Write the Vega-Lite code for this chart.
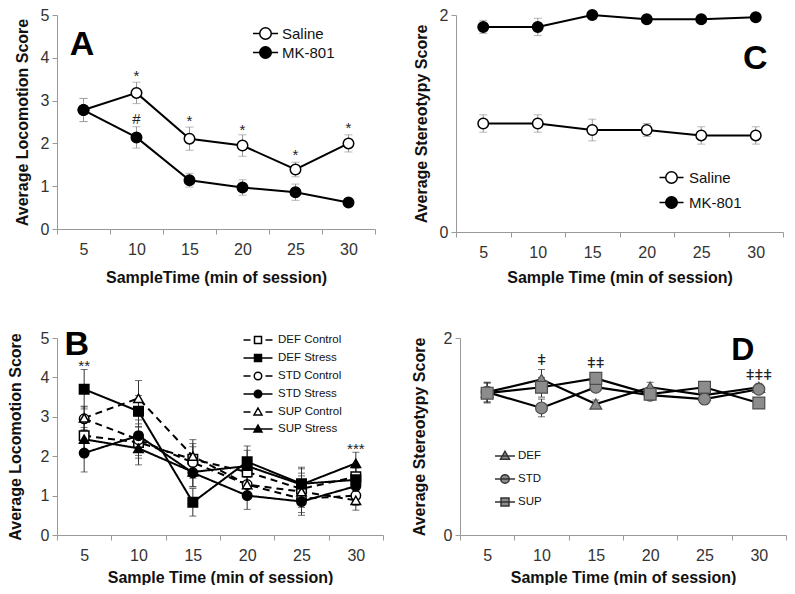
{
  "$schema": "https://vega.github.io/schema/vega-lite/v6.json",
  "padding": {"left": 7, "top": 6, "right": 0, "bottom": 0},
  "background": "white",
  "datasets": {
    "A": [
      {"g": "Saline", "t": 5, "v": 2.78, "e": 0.27},
      {"g": "Saline", "t": 10, "v": 3.18, "e": 0.25},
      {"g": "Saline", "t": 15, "v": 2.11, "e": 0.27},
      {"g": "Saline", "t": 20, "v": 1.95, "e": 0.25},
      {"g": "Saline", "t": 25, "v": 1.39, "e": 0.17},
      {"g": "Saline", "t": 30, "v": 2.0, "e": 0.2},
      {"g": "MK-801", "t": 5, "v": 2.78, "e": 0.27},
      {"g": "MK-801", "t": 10, "v": 2.14, "e": 0.25},
      {"g": "MK-801", "t": 15, "v": 1.14, "e": 0.16},
      {"g": "MK-801", "t": 20, "v": 0.97, "e": 0.18},
      {"g": "MK-801", "t": 25, "v": 0.86, "e": 0.19},
      {"g": "MK-801", "t": 30, "v": 0.62, "e": 0.05}
    ],
    "annA": [
      {"t": 10, "v": 3.62, "label": "*"},
      {"t": 15, "v": 2.58, "label": "*"},
      {"t": 20, "v": 2.36, "label": "*"},
      {"t": 25, "v": 1.78, "label": "*"},
      {"t": 30, "v": 2.41, "label": "*"},
      {"t": 10, "v": 2.62, "label": "#"}
    ],
    "C": [
      {"g": "Saline", "t": 5, "v": 1.0, "e": 0.08},
      {"g": "Saline", "t": 10, "v": 1.0, "e": 0.08},
      {"g": "Saline", "t": 15, "v": 0.94, "e": 0.1},
      {"g": "Saline", "t": 20, "v": 0.94, "e": 0.06},
      {"g": "Saline", "t": 25, "v": 0.89, "e": 0.08},
      {"g": "Saline", "t": 30, "v": 0.89, "e": 0.08},
      {"g": "MK-801", "t": 5, "v": 1.89, "e": 0.06},
      {"g": "MK-801", "t": 10, "v": 1.89, "e": 0.08},
      {"g": "MK-801", "t": 15, "v": 2.0, "e": 0.02},
      {"g": "MK-801", "t": 20, "v": 1.96, "e": 0.02},
      {"g": "MK-801", "t": 25, "v": 1.96, "e": 0.02},
      {"g": "MK-801", "t": 30, "v": 1.98, "e": 0.02}
    ],
    "B": [
      {"g": "DEF Control", "t": 5, "v": 2.52, "e": 0.35},
      {"g": "DEF Control", "t": 10, "v": 2.35, "e": 0.4},
      {"g": "DEF Control", "t": 15, "v": 1.92, "e": 0.4},
      {"g": "DEF Control", "t": 20, "v": 1.6, "e": 0.35},
      {"g": "DEF Control", "t": 25, "v": 1.17, "e": 0.4},
      {"g": "DEF Control", "t": 30, "v": 1.48, "e": 0.3},
      {"g": "DEF Stress", "t": 5, "v": 3.7, "e": 0.5},
      {"g": "DEF Stress", "t": 10, "v": 3.14, "e": 0.4},
      {"g": "DEF Stress", "t": 15, "v": 0.83, "e": 0.35},
      {"g": "DEF Stress", "t": 20, "v": 1.86, "e": 0.4},
      {"g": "DEF Stress", "t": 25, "v": 1.3, "e": 0.42},
      {"g": "DEF Stress", "t": 30, "v": 1.4, "e": 0.3},
      {"g": "STD Control", "t": 5, "v": 2.95, "e": 0.3},
      {"g": "STD Control", "t": 10, "v": 2.42, "e": 0.4},
      {"g": "STD Control", "t": 15, "v": 1.84, "e": 0.4},
      {"g": "STD Control", "t": 20, "v": 1.28, "e": 0.3},
      {"g": "STD Control", "t": 25, "v": 0.92, "e": 0.35},
      {"g": "STD Control", "t": 30, "v": 1.0, "e": 0.25},
      {"g": "STD Stress", "t": 5, "v": 2.08, "e": 0.48},
      {"g": "STD Stress", "t": 10, "v": 2.52, "e": 0.4},
      {"g": "STD Stress", "t": 15, "v": 1.58, "e": 0.35},
      {"g": "STD Stress", "t": 20, "v": 1.0, "e": 0.35},
      {"g": "STD Stress", "t": 25, "v": 0.85, "e": 0.35},
      {"g": "STD Stress", "t": 30, "v": 1.24, "e": 0.3},
      {"g": "SUP Control", "t": 5, "v": 2.97, "e": 0.3},
      {"g": "SUP Control", "t": 10, "v": 3.47, "e": 0.45},
      {"g": "SUP Control", "t": 15, "v": 2.0, "e": 0.42},
      {"g": "SUP Control", "t": 20, "v": 1.28, "e": 0.3},
      {"g": "SUP Control", "t": 25, "v": 1.1, "e": 0.4},
      {"g": "SUP Control", "t": 30, "v": 0.88, "e": 0.25},
      {"g": "SUP Stress", "t": 5, "v": 2.43, "e": 0.3},
      {"g": "SUP Stress", "t": 10, "v": 2.2, "e": 0.42},
      {"g": "SUP Stress", "t": 15, "v": 1.6, "e": 0.38},
      {"g": "SUP Stress", "t": 20, "v": 1.75, "e": 0.4},
      {"g": "SUP Stress", "t": 25, "v": 1.28, "e": 0.4},
      {"g": "SUP Stress", "t": 30, "v": 1.82, "e": 0.28}
    ],
    "annB": [
      {"t": 5, "v": 4.37, "label": "**"},
      {"t": 30, "v": 2.25, "label": "***"}
    ],
    "D": [
      {"g": "DEF", "t": 5, "v": 1.45, "e": 0.1},
      {"g": "DEF", "t": 10, "v": 1.58, "e": 0.1},
      {"g": "DEF", "t": 15, "v": 1.33, "e": 0.04},
      {"g": "DEF", "t": 20, "v": 1.5, "e": 0.05},
      {"g": "DEF", "t": 25, "v": 1.42, "e": 0.04},
      {"g": "DEF", "t": 30, "v": 1.5, "e": 0.04},
      {"g": "STD", "t": 5, "v": 1.45, "e": 0.1},
      {"g": "STD", "t": 10, "v": 1.29, "e": 0.09},
      {"g": "STD", "t": 15, "v": 1.5, "e": 0.04},
      {"g": "STD", "t": 20, "v": 1.42, "e": 0.04},
      {"g": "STD", "t": 25, "v": 1.38, "e": 0.05},
      {"g": "STD", "t": 30, "v": 1.48, "e": 0.04},
      {"g": "SUP", "t": 5, "v": 1.44, "e": 0.1},
      {"g": "SUP", "t": 10, "v": 1.5, "e": 0.1},
      {"g": "SUP", "t": 15, "v": 1.59, "e": 0.04},
      {"g": "SUP", "t": 20, "v": 1.43, "e": 0.04},
      {"g": "SUP", "t": 25, "v": 1.5, "e": 0.05},
      {"g": "SUP", "t": 30, "v": 1.34, "e": 0.03}
    ],
    "annD": [
      {"t": 10, "v": 1.8, "label": "ǂ"},
      {"t": 15, "v": 1.77, "label": "ǂǂ"},
      {"t": 30, "v": 1.64, "label": "ǂǂǂ"}
    ],
    "letters": [
      {"p": "A", "t": 5, "v": 4.07},
      {"p": "B", "t": 5, "v": 4.58},
      {"p": "C", "t": 30, "v": 1.5},
      {"p": "D", "t": 30, "v": 1.78}
    ]
  },
  "config": {
    "font": "Liberation Sans",
    "view": {"stroke": null},
    "axis": {
      "grid": false,
      "labelFont": "Liberation Sans",
      "labelFontSize": 16,
      "labelColor": "#333333",
      "titleFont": "Liberation Sans",
      "titleFontSize": 16,
      "titleFontWeight": "bold",
      "titleColor": "#111111",
      "domainColor": "#999999",
      "tickColor": "#999999",
      "tickSize": 5
    },
    "legend": {
      "labelFont": "Liberation Sans",
      "labelColor": "#111111"
    }
  },
  "vconcat": [
    {
      "hconcat": [
        {
          "width": 318,
          "height": 214,
          "data": {"name": "A"},
          "encoding": {
            "x": {"field": "t", "type": "ordinal", "scale": {"type": "band", "domain": [5, 10, 15, 20, 25, 30], "paddingInner": 0, "paddingOuter": 0}, "axis": {"title": "SampleTime (min of session)", "labelAngle": 0, "tickBand": "extent", "labelPadding": 7, "titlePadding": 12}},
            "y": {"field": "v", "type": "quantitative", "scale": {"domain": [0, 5]}, "axis": {"title": "Average Locomotion Score", "values": [0, 1, 2, 3, 4, 5], "format": "d", "titlePadding": 10, "labelPadding": 3}}
          },
          "layer": [
            {"mark": {"type": "errorbar", "color": "#999999", "thickness": 1, "ticks": {"size": 8}}, "encoding": {"yError": {"field": "e"}}},
            {"mark": {"type": "line", "color": "black", "strokeWidth": 2}, "encoding": {"detail": {"field": "g"}}},
            {"mark": {"type": "point", "filled": true, "stroke": "black", "strokeWidth": 1.5, "size": 110, "opacity": 1},
             "encoding": {
               "shape": {"field": "g", "type": "nominal", "scale": {"domain": ["Saline", "MK-801"], "range": ["circle", "circle"]}, "legend": null},
               "fill": {"field": "g", "type": "nominal", "scale": {"domain": ["Saline", "MK-801"], "range": ["white", "black"]}, "legend": null}
             }},
            {"data": {"name": "annA"}, "mark": {"type": "text", "fontSize": 15, "color": "#222222", "baseline": "middle", "dy": 2}, "encoding": {"text": {"field": "label"}}},
            {"data": {"name": "letters"}, "transform": [{"filter": "datum.p == 'A'"}], "mark": {"type": "text", "fontSize": 34, "fontWeight": "bold", "baseline": "alphabetic", "dx": -1.5, "color": "black"}, "encoding": {"text": {"field": "p"}}},
            {"transform": [{"filter": "datum.t > 100"}],
             "mark": {"type": "point", "filled": true, "stroke": "black", "strokeWidth": 1.5},
             "encoding": {
               "shape": {"field": "g", "type": "nominal", "scale": {"domain": ["Saline", "MK-801"], "range": ["M-1.67,0H-0.77M0.77,0H1.67M-0.77,0A0.77,0.77,0,1,0,0.77,0A0.77,0.77,0,1,0,-0.77,0Z", "M-1.67,0H1.67M-0.77,0A0.77,0.77,0,1,0,0.77,0A0.77,0.77,0,1,0,-0.77,0Z"]},
                 "legend": {"title": null, "orient": "none", "legendX": 200, "legendY": 10, "symbolSize": 225, "symbolOpacity": 1, "labelFontSize": 15, "labelOffset": 8, "rowPadding": 0,
                   "encode": {"symbols": {"update": {"stroke": {"value": "black"}, "strokeWidth": {"value": 1.5}}}}}},
               "fill": {"field": "g", "type": "nominal", "scale": {"domain": ["Saline", "MK-801"], "range": ["white", "black"]},
                 "legend": {"title": null, "orient": "none", "legendX": 200, "legendY": 10, "symbolSize": 225, "symbolOpacity": 1, "labelFontSize": 15, "labelOffset": 8, "rowPadding": 0,
                   "encode": {"symbols": {"update": {"stroke": {"value": "black"}, "strokeWidth": {"value": 1.5}}}}}}
             }}
          ],
          "resolve": {"scale": {"shape": "independent", "fill": "independent"}}
        },
        {
          "width": 327,
          "height": 217,
          "data": {"name": "C"},
          "encoding": {
            "x": {"field": "t", "type": "ordinal", "scale": {"type": "band", "domain": [5, 10, 15, 20, 25, 30], "paddingInner": 0, "paddingOuter": 0}, "axis": {"title": "Sample Time (min of session)", "labelAngle": 0, "tickBand": "extent", "labelPadding": 7, "titlePadding": 9}},
            "y": {"field": "v", "type": "quantitative", "scale": {"domain": [0, 2]}, "axis": {"title": "Average Stereotypy Score", "values": [0, 1, 2], "format": "d", "titlePadding": 10, "labelPadding": 3}}
          },
          "layer": [
            {"mark": {"type": "errorbar", "color": "#999999", "thickness": 1, "ticks": {"size": 8}}, "encoding": {"yError": {"field": "e"}}},
            {"mark": {"type": "line", "color": "black", "strokeWidth": 2}, "encoding": {"detail": {"field": "g"}}},
            {"mark": {"type": "point", "filled": true, "stroke": "black", "strokeWidth": 1.5, "size": 110, "opacity": 1},
             "encoding": {
               "shape": {"field": "g", "type": "nominal", "scale": {"domain": ["Saline", "MK-801"], "range": ["circle", "circle"]}, "legend": null},
               "fill": {"field": "g", "type": "nominal", "scale": {"domain": ["Saline", "MK-801"], "range": ["white", "black"]}, "legend": null}
             }},
            {"data": {"name": "letters"}, "transform": [{"filter": "datum.p == 'C'"}], "mark": {"type": "text", "fontSize": 34, "fontWeight": "bold", "baseline": "alphabetic", "dx": -0.5, "color": "black"}, "encoding": {"text": {"field": "p"}}},
            {"transform": [{"filter": "datum.t > 100"}],
             "mark": {"type": "point", "filled": true, "stroke": "black", "strokeWidth": 1.5},
             "encoding": {
               "shape": {"field": "g", "type": "nominal", "scale": {"domain": ["Saline", "MK-801"], "range": ["M-1.6,0H-0.77M0.77,0H1.6M-0.77,0A0.77,0.77,0,1,0,0.77,0A0.77,0.77,0,1,0,-0.77,0Z", "M-1.6,0H1.6M-0.77,0A0.77,0.77,0,1,0,0.77,0A0.77,0.77,0,1,0,-0.77,0Z"]},
                 "legend": {"title": null, "orient": "none", "legendX": 207, "legendY": 154, "symbolSize": 225, "symbolOpacity": 1, "labelFontSize": 15, "labelOffset": 9, "rowPadding": 6,
                   "encode": {"symbols": {"update": {"stroke": {"value": "black"}, "strokeWidth": {"value": 1.5}}}}}},
               "fill": {"field": "g", "type": "nominal", "scale": {"domain": ["Saline", "MK-801"], "range": ["white", "black"]},
                 "legend": {"title": null, "orient": "none", "legendX": 207, "legendY": 154, "symbolSize": 225, "symbolOpacity": 1, "labelFontSize": 15, "labelOffset": 9, "rowPadding": 6,
                   "encode": {"symbols": {"update": {"stroke": {"value": "black"}, "strokeWidth": {"value": 1.5}}}}}}
             }}
          ],
          "resolve": {"scale": {"shape": "independent", "fill": "independent"}}
        }
      ],
      "spacing": 37
    },
    {
      "hconcat": [
        {
          "width": 326,
          "height": 197,
          "data": {"name": "B"},
          "encoding": {
            "x": {"field": "t", "type": "ordinal", "scale": {"type": "band", "domain": [5, 10, 15, 20, 25, 30], "paddingInner": 0, "paddingOuter": 0}, "axis": {"title": "Sample Time (min of session)", "labelAngle": 0, "tickBand": "extent", "labelPadding": 7, "titlePadding": 6}},
            "y": {"field": "v", "type": "quantitative", "scale": {"domain": [0, 5]}, "axis": {"title": "Average Locomotion Score", "values": [0, 1, 2, 3, 4, 5], "format": "d", "titlePadding": 17, "labelPadding": 3}}
          },
          "layer": [
            {"mark": {"type": "errorbar", "color": "#333333", "thickness": 1, "ticks": {"size": 7}}, "encoding": {"yError": {"field": "e"}}},
            {"mark": {"type": "line", "color": "black", "strokeWidth": 2},
             "encoding": {"detail": {"field": "g"},
               "strokeDash": {"field": "g", "type": "nominal", "scale": {"domain": ["DEF Control", "DEF Stress", "STD Control", "STD Stress", "SUP Control", "SUP Stress"], "range": [[7, 5], [1, 0], [7, 5], [1, 0], [7, 5], [1, 0]]}, "legend": null}}},
            {"mark": {"type": "point", "filled": true, "stroke": "black", "strokeWidth": 1.5, "size": 90, "opacity": 1},
             "encoding": {
               "shape": {"field": "g", "type": "nominal", "scale": {"domain": ["DEF Control", "DEF Stress", "STD Control", "STD Stress", "SUP Control", "SUP Stress"], "range": ["square", "square", "circle", "circle", "triangle-up", "triangle-up"]}, "legend": null},
               "fill": {"field": "g", "type": "nominal", "scale": {"domain": ["DEF Control", "DEF Stress", "STD Control", "STD Stress", "SUP Control", "SUP Stress"], "range": ["white", "black", "white", "black", "white", "black"]}, "legend": null}
             }},
            {"data": {"name": "annB"}, "mark": {"type": "text", "fontSize": 15, "color": "#222222", "baseline": "middle", "dy": 3}, "encoding": {"text": {"field": "label"}}},
            {"data": {"name": "letters"}, "transform": [{"filter": "datum.p == 'B'"}], "mark": {"type": "text", "fontSize": 34, "fontWeight": "bold", "baseline": "alphabetic", "dx": -7.5, "color": "black"}, "encoding": {"text": {"field": "p"}}},
            {"transform": [{"filter": "datum.t > 100"}],
             "mark": {"type": "point", "filled": true, "stroke": "black", "strokeWidth": 1.5},
             "encoding": {
               "shape": {"field": "g", "type": "nominal", "scale": {"domain": ["DEF Control", "DEF Stress", "STD Control", "STD Stress", "SUP Control", "SUP Stress"], "range": [
                   "M-2.9,0H-1.5M1.5,0H2.9M-0.7,-0.7H0.7V0.7H-0.7Z",
                   "M-2.9,0H2.9M-0.7,-0.7H0.7V0.7H-0.7Z",
                   "M-2.9,0H-1.5M1.5,0H2.9M-0.75,0A0.75,0.75,0,1,0,0.75,0A0.75,0.75,0,1,0,-0.75,0Z",
                   "M-2.9,0H2.9M-0.75,0A0.75,0.75,0,1,0,0.75,0A0.75,0.75,0,1,0,-0.75,0Z",
                   "M-2.9,0H-1.5M1.5,0H2.9M0,-0.8L0.8,0.6L-0.8,0.6Z",
                   "M-2.9,0H2.9M0,-0.8L0.8,0.6L-0.8,0.6Z"]},
                 "legend": {"title": null, "orient": "none", "legendX": 195, "legendY": -4, "symbolSize": 100, "symbolOpacity": 1, "labelFontSize": 11.5, "labelOffset": 14, "rowPadding": 4,
                   "encode": {"symbols": {"update": {"stroke": {"value": "black"}, "strokeWidth": {"value": 1.8}}}}}},
               "fill": {"field": "g", "type": "nominal", "scale": {"domain": ["DEF Control", "DEF Stress", "STD Control", "STD Stress", "SUP Control", "SUP Stress"], "range": ["white", "black", "white", "black", "white", "black"]},
                 "legend": {"title": null, "orient": "none", "legendX": 195, "legendY": -4, "symbolSize": 100, "symbolOpacity": 1, "labelFontSize": 11.5, "labelOffset": 14, "rowPadding": 4,
                   "encode": {"symbols": {"update": {"stroke": {"value": "black"}, "strokeWidth": {"value": 1.8}}}}}}
             }}
          ],
          "resolve": {"scale": {"shape": "independent", "fill": "independent"}}
        },
        {
          "width": 326,
          "height": 197,
          "data": {"name": "D"},
          "encoding": {
            "x": {"field": "t", "type": "ordinal", "scale": {"type": "band", "domain": [5, 10, 15, 20, 25, 30], "paddingInner": 0, "paddingOuter": 0}, "axis": {"title": "Sample Time (min of session)", "labelAngle": 0, "tickBand": "extent", "labelPadding": 7, "titlePadding": 6}},
            "y": {"field": "v", "type": "quantitative", "scale": {"domain": [0, 2]}, "axis": {"title": "Average Stereotypy Score", "values": [0, 1, 2], "format": "d", "titlePadding": 16, "labelPadding": 3}}
          },
          "layer": [
            {"mark": {"type": "errorbar", "color": "#333333", "thickness": 1, "ticks": {"size": 7}}, "encoding": {"yError": {"field": "e"}}},
            {"mark": {"type": "line", "color": "black", "strokeWidth": 2.2}, "encoding": {"detail": {"field": "g"}}},
            {"mark": {"type": "point", "filled": true, "stroke": "#4d4d4d", "strokeWidth": 1.2, "size": 140, "opacity": 1},
             "encoding": {
               "shape": {"field": "g", "type": "nominal", "scale": {"domain": ["DEF", "STD", "SUP"], "range": ["triangle-up", "circle", "square"]}, "legend": null},
               "fill": {"field": "g", "type": "nominal", "scale": {"domain": ["DEF", "STD", "SUP"], "range": ["#8c8c8c", "#8c8c8c", "#8c8c8c"]}, "legend": null}
             }},
            {"data": {"name": "annD"}, "mark": {"type": "text", "fontSize": 15, "color": "#222222", "baseline": "middle", "dy": 2}, "encoding": {"text": {"field": "label"}}},
            {"data": {"name": "letters"}, "transform": [{"filter": "datum.p == 'D'"}], "mark": {"type": "text", "fontSize": 32, "fontWeight": "bold", "baseline": "alphabetic", "dx": -16, "color": "black"}, "encoding": {"text": {"field": "p"}}},
            {"transform": [{"filter": "datum.t > 100"}],
             "mark": {"type": "point", "filled": true, "stroke": "#333333", "strokeWidth": 1.5},
             "encoding": {
               "shape": {"field": "g", "type": "nominal", "scale": {"domain": ["DEF", "STD", "SUP"], "range": [
                   "M-2,0H2M0,-0.95L0.9,0.65L-0.9,0.65Z",
                   "M-2,0H2M-0.85,0A0.85,0.85,0,1,0,0.85,0A0.85,0.85,0,1,0,-0.85,0Z",
                   "M-2,0H2M-0.8,-0.8H0.8V0.8H-0.8Z"]},
                 "legend": {"title": null, "orient": "none", "legendX": 39, "legendY": 112, "symbolSize": 100, "symbolOpacity": 1, "labelFontSize": 11.5, "labelOffset": 7, "rowPadding": 8,
                   "encode": {"symbols": {"update": {"stroke": {"value": "#333333"}, "strokeWidth": {"value": 1.5}}}}}},
               "fill": {"field": "g", "type": "nominal", "scale": {"domain": ["DEF", "STD", "SUP"], "range": ["#8c8c8c", "#8c8c8c", "#8c8c8c"]},
                 "legend": {"title": null, "orient": "none", "legendX": 39, "legendY": 112, "symbolSize": 100, "symbolOpacity": 1, "labelFontSize": 11.5, "labelOffset": 7, "rowPadding": 8,
                   "encode": {"symbols": {"update": {"stroke": {"value": "#333333"}, "strokeWidth": {"value": 1.5}}}}}}
             }}
          ],
          "resolve": {"scale": {"shape": "independent", "fill": "independent"}}
        }
      ],
      "spacing": 27
    }
  ],
  "spacing": 42
}
